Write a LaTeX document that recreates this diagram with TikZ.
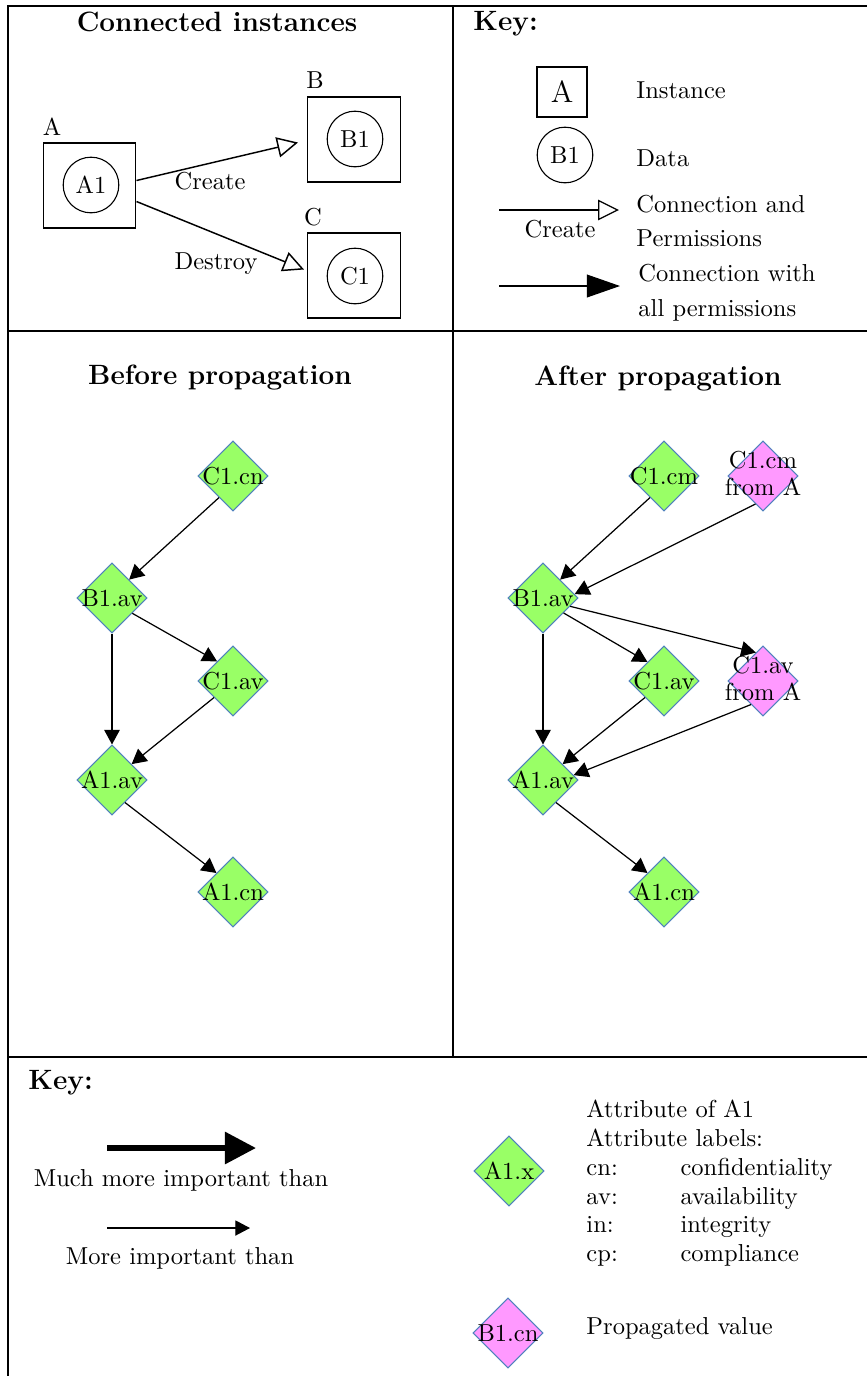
\documentclass[tikz,border=0pt]{standalone}
\usetikzlibrary{arrows.meta,shapes.geometric,calc}
\definecolor{attrgreen}{HTML}{99FF66}
\definecolor{proppink}{HTML}{FF99FF}
\definecolor{attredge}{HTML}{4F81BD}
\tikzset{
  frame/.style={line width=0.5pt},
  title/.style={font=\fontsize{11.4}{13}\selectfont\bfseries, inner sep=0pt},
  txt/.style={inner sep=0pt, font=\fontsize{10}{12}\selectfont},
  inst/.style={draw, line width=0.45pt, minimum width=37.9pt, minimum height=34.7pt, inner sep=0pt},
  data/.style={draw, circle, line width=0.45pt, minimum size=22.7pt, inner sep=0pt},
  attr/.style={diamond, draw=attredge, line width=0.4pt, fill=attrgreen, shape aspect=1,
    minimum width=28.6pt, minimum height=28.6pt, inner sep=0pt, font=\fontsize{10}{11.4}\selectfont},
  prop/.style={attr, fill=proppink},
  imp/.style={-{Triangle[length=6pt,width=6.4pt]}, line width=0.5pt},
  perm/.style={-{Triangle[open,length=8.5pt,width=8.3pt,fill=white]}, line width=0.6pt},
  allperm/.style={-{Triangle[length=13.5pt,width=9.3pt]}, line width=0.5pt},
  muchimp/.style={-{Triangle[length=12.7pt,width=12.7pt]}, line width=2.4pt},
}
\newcommand{\dlab}[1]{\makebox[0pt]{#1}}
\newcommand{\dtwo}[2]{\makebox[0pt]{\raisebox{-2pt}{\begin{tabular}{@{}c@{}}#1\\[-0.4pt]#2\end{tabular}}}}
\begin{document}
\begin{tikzpicture}[x=0.408pt,y=-0.408pt]
\useasboundingbox (0,0) rectangle (867,1376);

% panel frame
\draw[frame] (867,6) -- (8,6) -- (8,1376);
\draw[frame] (453,6) -- (453,1057);
\draw[frame] (8,331) -- (867,331);
\draw[frame] (8,1057) -- (867,1057);

% ---------- connected instances ----------
\node[title] (t-conn) at (217,22) {Connected instances};
\node[inst] (boxA) at (89.5,185.5) {};
\node[inst] (boxB) at (354,139.5) {};
\node[inst] (boxC) at (354,275.5) {};
\node[data] (dA1) at (91,185) {A1};
\node[data] (dB1) at (355,139) {B1};
\node[data] (dC1) at (355,276) {C1};
\node[txt] (lA) at (52,127) {A};
\node[txt] (lB) at (315,80) {B};
\node[txt] (lC) at (313,217) {C};
\draw[perm] ($(boxA.east)+(0,-5)$) -- ($(boxB.west)+(-9,3)$);
\draw[perm] ($(boxA.east)+(0,16)$) -- ($(boxC.west)+(-3,-6)$);
\node[txt] (lcreate) at (210,181) {Create};
\node[txt] (ldestroy) at (216,264) {Destroy};

% ---------- key (top) ----------
\node[title, anchor=west] (t-key1) at (473,24) {Key:};
\node[draw, line width=0.45pt, minimum size=20.4pt, inner sep=0pt, font=\fontsize{12.5}{14}\selectfont] (kinst) at (562,92) {A};
\node[txt, anchor=west] (kinsttxt) at (636,90) {Instance};
\node[data] (kdata) at (565,155) {B1};
\node[txt, anchor=west] (kdatatxt) at (636,158) {Data};
\coordinate (kp1) at (499,210);
\coordinate (kp2) at (619,210);
\draw[perm, line width=0.5pt] (kp1) -- (kp2);
\node[txt] (kcreate) at (560,229) {Create};
\node[txt, anchor=west, align=left, font=\fontsize{10}{14}\selectfont] (kpermtxt) at (636,221) {Connection and\\Permissions};
\coordinate (ka1) at (499,286);
\coordinate (ka2) at (620,286);
\draw[allperm] (ka1) -- (ka2);
\node[txt, anchor=west, align=left, font=\fontsize{10}{14.3}\selectfont] (kalltxt) at (638,293) {Connection with\\all permissions};

% ---------- before propagation ----------
\node[title] (t-before) at (220,378) {Before propagation};
\node[attr] (b-c1cn) at (233,476) {\dlab{C1.cn}};
\node[attr] (b-b1av) at (112,598) {\dlab{B1.av}};
\node[attr] (b-c1av) at (233,681) {\dlab{C1.av}};
\node[attr] (b-a1av) at (112,780) {\dlab{A1.av}};
\node[attr] (b-a1cn) at (233,892) {\dlab{A1.cn}};
\draw[imp] (b-c1cn.237) -- (b-b1av.47);
\draw[imp] (b-b1av.-37) -- (b-c1av.129);
\draw[imp] (b-b1av) -- (b-a1av);
\draw[imp] (b-c1av.221) -- (b-a1av.39);
\draw[imp] (b-a1av.-60) -- (b-a1cn.131);

% ---------- after propagation ----------
\node[title] (t-after) at (658,379) {After propagation};
\node[attr] (a-c1cm) at (664,476) {\dlab{C1.cm}};
\node[prop] (a-c1cmA) at (763,476) {\dtwo{C1.cm}{from A}};
\node[attr] (a-b1av) at (543,598) {\dlab{B1.av}};
\node[attr] (a-c1av) at (664,681) {\dlab{C1.av}};
\node[prop] (a-c1avA) at (763,681) {\dtwo{C1.av}{from A}};
\node[attr] (a-a1av) at (543,780) {\dlab{A1.av}};
\node[attr] (a-a1cn) at (664,892) {\dlab{A1.cn}};
\draw[imp] (a-c1cm.237) -- (a-b1av.47);
\draw[imp] (a-c1cmA.255) -- (a-b1av.7);
\draw[imp] (a-b1av.-36) -- (a-c1av.131);
\draw[imp] (a-b1av.-17) -- (a-c1avA.104);
\draw[imp] (a-b1av) -- (a-a1av);
\draw[imp] (a-c1av.221) -- (a-a1av.39);
\draw[imp] (a-c1avA.243) -- (a-a1av.9);
\draw[imp] (a-a1av.-60) -- (a-a1cn.131);

% ---------- key (bottom) ----------
\node[title, anchor=west] (t-key2) at (28,1083) {Key:};
\coordinate (km1) at (107,1148);
\coordinate (km2) at (256,1148);
\draw[muchimp] (km1) -- (km2);
\node[txt] (kmtxt) at (181,1180) {Much more important than};
\coordinate (kt1) at (107,1228);
\coordinate (kt2) at (250,1228);
\draw[-{Triangle[length=6pt,width=6.2pt]}, line width=0.5pt] (kt1) -- (kt2);
\node[txt] (kttxt) at (180,1258) {More important than};
\node[attr] (kattr) at (509,1171) {\dlab{A1.x}};
\node[txt, anchor=north west] (klabels) at (586,1097) {%
  \renewcommand{\arraystretch}{0.98}%
  \begin{tabular}{@{}p{38.4pt}@{}l@{}}
  \multicolumn{2}{@{}l@{}}{Attribute of A1}\\
  \multicolumn{2}{@{}l@{}}{Attribute labels:}\\
  cn: & confidentiality\\
  av: & availability\\
  in: & integrity\\
  cp: & compliance
  \end{tabular}};
\node[prop] (kprop) at (508,1333) {\dlab{B1.cn}};
\node[txt, anchor=west] (kproptxt) at (586,1329) {Propagated value};
\end{tikzpicture}
\end{document}
